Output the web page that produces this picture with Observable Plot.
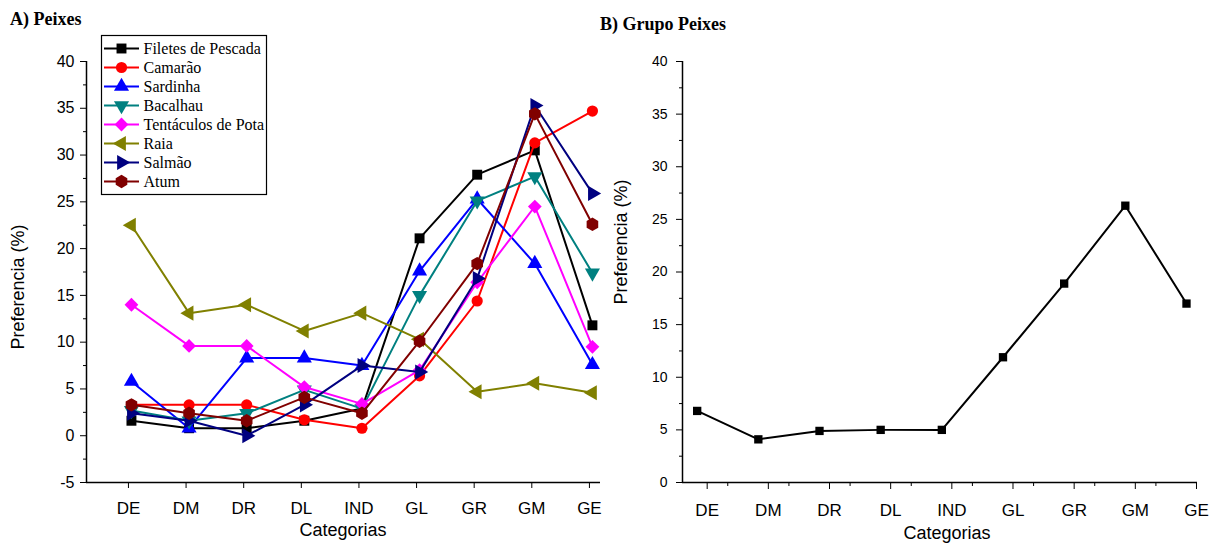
<!DOCTYPE html>
<html><head><meta charset="utf-8">
<script src="https://cdn.jsdelivr.net/npm/d3@7"></script>
<script src="https://cdn.jsdelivr.net/npm/@observablehq/plot@0.6"></script>
<style>
body{margin:0;background:#fff;width:1210px;height:543px;position:relative;overflow:hidden;font-family:"Liberation Sans",Arial,sans-serif;color:#000;}
.abs{position:absolute}
.title{font-family:"Liberation Serif","Times New Roman",serif;font-weight:bold;font-size:18px;white-space:nowrap;}
.axt{font-size:18px;white-space:nowrap;transform:translate(-50%,-50%);}
.axt.rot{transform:translate(-50%,-50%) rotate(-90deg);}
</style></head><body>
<div id="A" class="abs" style="left:0;top:0"></div>
<div id="B" class="abs" style="left:605px;top:0"></div>
<div id="L" class="abs" style="left:101px;top:35px"></div>
<div class="abs title" style="left:10px;top:9px">A) Peixes</div>
<div class="abs title" style="left:600px;top:14px">B) Grupo Peixes</div>
<div class="abs axt rot" style="left:18px;top:287px">Preferencia (%)</div>
<div class="abs axt rot" style="left:621px;top:242px">Preferencia (%)</div>
<div class="abs axt" style="left:343px;top:530px">Categorias</div>
<div class="abs axt" style="left:947px;top:533px">Categorias</div>
<script>
const cats = ["DE","DM","DR","DL","IND","GL","GR","GM","GE"];
const seriesNames = ["Filetes de Pescada","Camarão","Sardinha","Bacalhau","Tentáculos de Pota","Raia","Salmão","Atum"];
const filetes    = [1.6, 0.8, 0.8, 1.6, 2.9, 21.1, 27.9, 30.5, 11.8];
const camarao    = [3.3, 3.3, 3.3, 1.7, 0.8, 6.4, 14.4, 31.3, 34.7];
const sardinha   = [5.8, 0.8, 8.3, 8.3, 7.5, 17.6, 25.3, 18.4, 7.6];
const bacalhau   = [2.7, 1.6, 2.4, 4.9, 2.9, 15.0, 25.1, 27.7, 17.4];
const tentaculos = [14.0, 9.6, 9.6, 5.2, 3.4, 7.0, 16.4, 24.5, 9.5];
const raia       = [22.5, 13.1, 14.0, 11.2, 13.1, 10.3, 4.7, 5.6, 4.6];
const salmao     = [2.4, 1.6, 0.0, 3.3, 7.5, 6.8, 16.8, 35.3, 25.9];
const atum       = [3.3, 2.4, 1.6, 4.1, 2.4, 10.1, 18.4, 34.4, 22.6];
const grupoPeixes = [6.8, 4.1, 4.9, 5.0, 5.0, 11.9, 18.9, 26.3, 17.0];
const seriesValues = [filetes, camarao, sardinha, bacalhau, tentaculos, raia, salmao, atum];
const colors  = ["#000000","#ff0000","#0000ff","#008080","#ff00ff","#808000","#000080","#800000"];
const symbols = ["square","circle","triangle","triangle","diamond2","triangle","triangle","hexagon"];
const rotations = [0, 0, 0, 180, 0, -90, 90, 0];
const radii = [5.6, 5.6, 5.6, 5.6, 6.2, 5.6, 5.6, 5.8];

const series = seriesNames.map((name, k) => ({
  name, color: colors[k], symbol: symbols[k], rot: rotations[k], r: radii[k],
  data: seriesValues[k].map((v, i) => ({i, v}))
}));

const font = "Liberation Sans, Arial, sans-serif";
const serif = "Liberation Serif, Times New Roman, serif";
const blank = () => "";
const plain = d => String(d);

// Panel A
const xDomA = [-0.78, 8.14];
const yDomA = [-5, 40];
const plotA = Plot.plot({
  width: 605, height: 543,
  marginLeft: 86, marginRight: 5, marginTop: 61, marginBottom: 61,
  style: {fontFamily: font, fontSize: "16px", color: "#000", background: "transparent", overflow: "visible"},
  x: {type: "linear", domain: xDomA},
  y: {type: "linear", domain: yDomA},
  marks: [
    Plot.axisY(d3.range(-5, 41, 5), {tickSize: 6, tickPadding: 6, fontSize: 16, tickFormat: plain, label: null}),
    Plot.axisY(d3.range(-2.5, 40, 5), {tickSize: 3, tickFormat: blank, label: null}),
    Plot.axisX(d3.range(cats.length), {tickSize: 6, tickPadding: 13, fontSize: 17, dx: -3, tickFormat: i => cats[i], label: null}),
    Plot.ruleX([xDomA[0]], {stroke: "#000", strokeWidth: 1.5}),
    Plot.ruleY([yDomA[0]], {stroke: "#000", strokeWidth: 1.5}),
    ...series.flatMap(s => [
      Plot.line(s.data, {x: "i", y: "v", stroke: s.color, strokeWidth: 2}),
      Plot.dot(s.data, {x: "i", y: "v", fill: s.color, stroke: "none", symbol: s.symbol, rotate: s.rot, r: s.r})
    ])
  ]
});
document.getElementById("A").appendChild(plotA);

// Legend
const legend = Plot.plot({
  width: 165, height: 159, margin: 0,
  style: {background: "#fff", overflow: "visible"},
  x: {type: "linear", domain: [0, 165], axis: null},
  y: {type: "point", domain: seriesNames, range: [10, 149], padding: 0, axis: null},
  marks: [
    Plot.frame({stroke: "#000", strokeWidth: 1.2}),
    ...series.flatMap(s => [
      Plot.ruleY([s.name], {x1: 3, x2: 38, stroke: s.color, strokeWidth: 2}),
      Plot.dot([s.name], {x: 20, y: d => d, fill: s.color, stroke: "none", symbol: s.symbol, rotate: s.rot, r: s.r}),
      Plot.text([s.name], {x: 42, y: d => d, text: d => d, textAnchor: "start", fontFamily: serif, fontSize: 16, fill: "#000"})
    ])
  ]
});
document.getElementById("L").appendChild(legend);

// Panel B
const xDomB = [-0.24, 8.18];
const yDomB = [0, 40];
const grupoData = grupoPeixes.map((v, i) => ({i, v}));
const plotB = Plot.plot({
  width: 605, height: 543,
  marginLeft: 77, marginRight: 13, marginTop: 61, marginBottom: 61,
  style: {fontFamily: font, fontSize: "14px", color: "#000", background: "transparent", overflow: "visible"},
  x: {type: "linear", domain: xDomB},
  y: {type: "linear", domain: yDomB},
  marks: [
    Plot.axisY(d3.range(0, 41, 5), {tickSize: 6, tickPadding: 9, fontSize: 14, label: null}),
    Plot.axisY(d3.range(2.5, 40, 5), {tickSize: 3, tickFormat: blank, label: null}),
    Plot.axisX(d3.range(cats.length), {tickSize: 7, tickPadding: 14, fontSize: 17, dx: 10, tickFormat: i => cats[i], label: null}),
    Plot.axisX(d3.range(0.5, 8, 1), {tickSize: 4, tickFormat: blank, label: null}),
    Plot.ruleX([xDomB[0]], {stroke: "#000", strokeWidth: 1.5}),
    Plot.ruleY([yDomB[0]], {stroke: "#000", strokeWidth: 1.5}),
    Plot.line(grupoData, {x: "i", y: "v", stroke: "#000", strokeWidth: 2}),
    Plot.dot(grupoData, {x: "i", y: "v", fill: "#000", stroke: "none", symbol: "square", r: 4.7})
  ]
});
document.getElementById("B").appendChild(plotB);
</script>
</body></html>
